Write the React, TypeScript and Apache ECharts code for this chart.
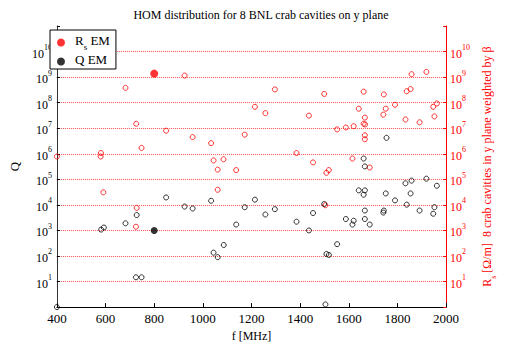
import React, { useEffect, useRef } from 'react';
import * as echarts from 'echarts';

const title = 'HOM distribution for 8 BNL crab cavities on y plane';
const xName = 'f [MHz]';
const xMin = 400;
const xMax = 2000;
const xStep = 200;
// decades shown on the logarithmic y axes (exponent of 10)
const yMinExp = 0;
const yMaxExp = 11;
const hiddenExponents = [0, 11];

// R_s (red open circles)
const rsFreq = [400, 580, 581, 591, 682, 725, 726, 728, 748, 849, 925, 958, 1034, 1044, 1061, 1061, 1085, 1137, 1172, 1214, 1257, 1296, 1385, 1436, 1453, 1499, 1504, 1508, 1518, 1552, 1588, 1615, 1620, 1641, 1661, 1661, 1666, 1667, 1666, 1666, 1686, 1742, 1744, 1752, 1790, 1833, 1838, 1854, 1858, 1891, 1919, 1947, 1952, 1962];
const rsVal = [7.8e5, 7.8e5, 1.07e6, 3.1e4, 3.8e8, 1.4e3, 1.5e7, 7.6e3, 1.7e6, 8e6, 1.15e9, 4.5e6, 2.6e6, 5.5e5, 2.4e5, 3.9e4, 6.1e5, 2.3e5, 5.6e6, 6.9e7, 3.9e7, 3.3e8, 1.07e6, 3.1e7, 4.6e5, 2.2e8, 9.7e3, 1.8e5, 2.3e5, 9e6, 1.07e7, 6.5e5, 1.2e7, 5.8e7, 2.7e8, 1.5e7, 2.6e7, 1.4e7, 5.3e6, 3.7e6, 2.9e5, 3.4e7, 2.1e8, 5.8e7, 8.3e7, 2.2e7, 2.8e8, 3.4e8, 1.3e9, 1.7e7, 1.6e9, 6.9e7, 2.9e7, 9.3e7];

// Q (black open circles)
const qFreq = [400, 582, 593, 682, 725, 728, 748, 849, 925, 958, 1034, 1044, 1061, 1086, 1137, 1172, 1214, 1257, 1296, 1385, 1436, 1453, 1499, 1504, 1508, 1518, 1552, 1588, 1615, 1620, 1641, 1661, 1661, 1666, 1666, 1666, 1666, 1686, 1742, 1744, 1752, 1755, 1790, 1833, 1838, 1854, 1858, 1891, 1919, 1947, 1952, 1962];
const qVal = [1, 1.08e3, 1.3e3, 1.9e3, 14.7, 4e3, 14.7, 1.95e4, 8.6e3, 7.2e3, 1.45e4, 1.35e2, 90, 2.7e2, 1.7e3, 8.1e3, 1.6e4, 4.2e3, 6.8e3, 2.2e3, 1e3, 4.8e3, 1.08e4, 1.27, 1.2e2, 1.1e2, 2.9e2, 2.8e3, 1.7e3, 2.4e3, 3.7e4, 6.5e5, 2.5e4, 3.2e5, 3.7e4, 6e3, 2.8e3, 1.7e3, 5e3, 6e3, 2.8e4, 4.2e6, 1.5e4, 7e4, 1.02e4, 2.8e4, 8.9e4, 6e3, 1.06e5, 4.5e3, 8.1e3, 5.6e4];

// filled legend markers drawn in the plot
const rsLegendFreq = [800];
const rsLegendVal = [1.37e9];
const qLegendFreq = [800];
const qLegendVal = [1e3];

const FONT = 'Liberation Serif';
const RED = '#ff0000';
const GRID_RED = '#ff4d4d';

// log10 transform for the logarithmic value axes
const zipLog = (xs: number[], ys: number[]) => xs.map((x, i) => [x, Math.log10(ys[i])]);

const expLabel = (e: number) => {
  const n = Math.round(e);
  if (hiddenExponents.includes(n)) return '';
  return '{b|10}{e|' + n + '}';
};

const tickRich = (color: string) => ({
  b: { fontFamily: FONT, fontSize: 12, color, lineHeight: 16, verticalAlign: 'bottom' as const },
  e: { fontFamily: FONT, fontSize: 8, color, lineHeight: 8, verticalAlign: 'top' as const },
});

export default function App() {
  const ref = useRef<HTMLDivElement>(null);
  useEffect(() => {
    if (!ref.current) return;
    const chart = echarts.init(ref.current, undefined, { renderer: 'svg' });
    chart.setOption({
      animation: false,
      backgroundColor: '#fff',
      title: {
        text: title,
        left: 256,
        textAlign: 'center',
        top: 4,
        textStyle: { fontFamily: FONT, fontSize: 12, fontWeight: 'normal', color: '#000' },
      },
      grid: { left: 46, right: 38, top: 26, bottom: 32, containLabel: false },
      legend: {
        orient: 'vertical',
        left: 50,
        top: 30,
        padding: [4, 6, 3, 7],
        itemGap: 2,
        itemWidth: 18,
        itemHeight: 8,
        borderColor: '#000',
        borderWidth: 1,
        backgroundColor: '#fff',
        data: [
          { name: 'Rs EM', icon: 'circle' },
          { name: 'Q EM', icon: 'circle' },
        ],
        formatter: (name: string) => (name === 'Rs EM' ? '{b|R}{s|s}{b| EM}' : '{b|Q EM}'),
        textStyle: {
          fontFamily: FONT,
          fontSize: 13,
          color: '#000',
          rich: {
            b: { fontFamily: FONT, fontSize: 13, lineHeight: 17, verticalAlign: 'top' },
            s: { fontFamily: FONT, fontSize: 9, lineHeight: 9, verticalAlign: 'bottom' },
          },
        },
        z: 10,
      },
      xAxis: {
        type: 'value',
        min: xMin,
        max: xMax,
        interval: xStep,
        name: xName,
        nameLocation: 'middle',
        nameGap: 17,
        nameTextStyle: { fontFamily: FONT, fontSize: 12, color: '#000' },
        axisLine: { lineStyle: { color: '#000', width: 1 } },
        axisTick: { inside: true, length: 4, lineStyle: { color: '#000' } },
        axisLabel: { fontFamily: FONT, fontSize: 13, color: '#000', margin: 5, formatter: (v: number) => String(v) },
        splitLine: { show: false },
      },
      yAxis: [
        {
          type: 'value',
          min: yMinExp,
          max: yMaxExp,
          interval: 1,
          name: 'Q',
          nameLocation: 'middle',
          nameGap: 35,
          nameRotate: 90,
          nameTextStyle: { fontFamily: FONT, fontSize: 13, color: '#000' },
          axisLine: { show: true, lineStyle: { color: '#333', width: 1 } },
          axisTick: { show: true, inside: true, length: 3, lineStyle: { color: '#000' } },
          axisLabel: { formatter: expLabel, margin: 5, rich: tickRich('#000') },
          splitLine: {
            show: true,
            showMinLine: false,
            showMaxLine: false,
            lineStyle: { color: [GRID_RED], type: 'dotted', width: 1 },
          },
        },
        {
          type: 'value',
          min: yMinExp,
          max: yMaxExp,
          interval: 1,
          position: 'right',
          name: '{b|R}{s|s}{b| [Ω/m]  8 crab cavities in y plane weighted by β}',
          nameLocation: 'middle',
          nameGap: 27,
          nameRotate: 90,
          nameTextStyle: {
            fontFamily: FONT,
            fontSize: 12,
            color: RED,
            rich: {
              b: { fontFamily: FONT, fontSize: 12, color: RED, lineHeight: 16, verticalAlign: 'top' },
              s: { fontFamily: FONT, fontSize: 8, color: RED, lineHeight: 8, verticalAlign: 'bottom' },
            },
          },
          axisLine: { show: true, lineStyle: { color: RED, width: 1 } },
          axisTick: { show: true, inside: true, length: 3, lineStyle: { color: RED } },
          axisLabel: { formatter: expLabel, margin: 4, rich: tickRich(RED) },
          splitLine: { show: false },
        },
      ],
      series: [
        {
          name: 'rs-open',
          type: 'scatter',
          yAxisIndex: 0,
          symbol: 'circle',
          symbolSize: 5,
          itemStyle: { color: 'rgba(0,0,0,0)', borderColor: RED, borderWidth: 1 },
          data: zipLog(rsFreq, rsVal),
          silent: true,
        },
        {
          name: 'q-open',
          type: 'scatter',
          yAxisIndex: 0,
          symbol: 'circle',
          symbolSize: 5,
          itemStyle: { color: 'rgba(0,0,0,0)', borderColor: '#000', borderWidth: 1 },
          data: zipLog(qFreq, qVal),
          silent: true,
        },
        {
          name: 'Rs EM',
          type: 'scatter',
          yAxisIndex: 0,
          symbol: 'circle',
          symbolSize: 8,
          itemStyle: { color: RED },
          data: zipLog(rsLegendFreq, rsLegendVal),
        },
        {
          name: 'Q EM',
          type: 'scatter',
          yAxisIndex: 0,
          symbol: 'circle',
          symbolSize: 7,
          itemStyle: { color: '#000' },
          data: zipLog(qLegendFreq, qLegendVal),
        },
      ],
    });
    return () => chart.dispose();
  }, []);
  return <div ref={ref} style={{ width: 505, height: 347, position: 'absolute', left: 0, top: 0 }} />;
}
